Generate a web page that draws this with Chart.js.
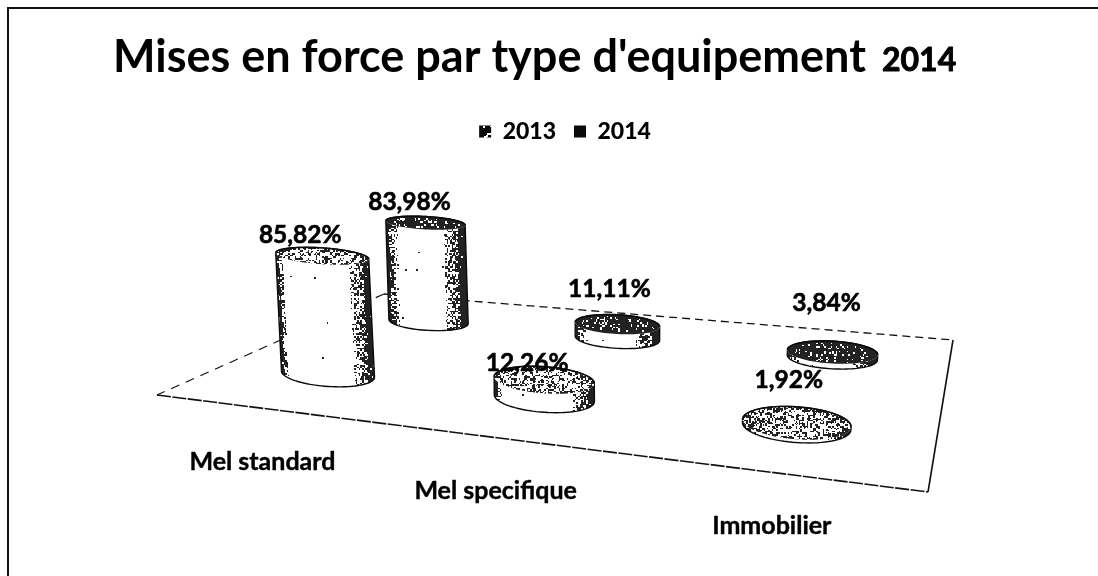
<!DOCTYPE html>
<html><head><meta charset="utf-8">
<style>html,body{margin:0;padding:0;background:#fff}canvas{display:block;filter:blur(0.45px)}</style>
<script src="https://cdn.jsdelivr.net/npm/chart.js@4/dist/chart.umd.min.js"></script>
</head><body><canvas id="c" width="1098" height="576"></canvas>
<script>
const categories = ['Mel standard', 'Mel specifique', 'Immobilier'];
const seriesNames = ['2013', '2014'];
const values2013 = [85.82, 12.26, 1.92];
const values2014 = [83.98, 11.11, 3.84];
const labels2013 = ['85,82%', '12,26%', '1,92%'];
const labels2014 = ['83,98%', '11,11%', '3,84%'];

// Look of the pseudo-3D scene (layout, not data)
const floor = {A:[157,395], B:[928,492], C:[953,340], D:[384,294]};
const labelNudge = [[[-22,-21],[-17,-17],[-8,-43]], [[-16,-21],[-8,-35],[-6,-49]]];
const catNudge = [2,54];
const valueLabelFont = 'bold 24.5px Lato';
const catFont = 'bold 25px Lato';
const fillDensity = [0.4, 0.85];

function homography(){
  const {A,B,C,D}=floor;
  const dx1=B[0]-C[0],dx2=D[0]-C[0],sx=A[0]-B[0]+C[0]-D[0];
  const dy1=B[1]-C[1],dy2=D[1]-C[1],sy=A[1]-B[1]+C[1]-D[1];
  const den=dx1*dy2-dx2*dy1;
  const g=(sx*dy2-dx2*sy)/den,h=(dx1*sy-sx*dy1)/den;
  const a=B[0]-A[0]+g*B[0],b=D[0]-A[0]+h*D[0],c=A[0];
  const d=B[1]-A[1]+g*B[1],e=D[1]-A[1]+h*D[1],f=A[1];
  return (u,v)=>{const w=1+g*u+h*v;return {x:(a*u+b*v+c)/w,y:(d*u+e*v+f)/w,w};};
}
const H=homography();
const noise=(x,y)=>{const s=Math.sin(Math.floor(x/1.6)*12.9898+Math.floor(y/1.6)*78.233)*43758.5453;return s-Math.floor(s);};
const clump=(x,y)=>0.55+0.85*Math.abs(Math.sin(x*0.23+y*0.41)*Math.cos(x*0.11-y*0.37));

function ellipsePts(cx,cy,rx,ry,sl,from,to,n){
  const pts=[];
  for(let i=0;i<=n;i++){const t=from+(to-from)*i/n;const ex=Math.cos(t)*rx;
    pts.push([cx+ex,cy+ex*sl+Math.sin(t)*ry]);}
  return pts;
}
function trace(ctx,pts,move){pts.forEach((p,i)=>{(i===0&&move)?ctx.moveTo(p[0],p[1]):ctx.lineTo(p[0],p[1]);});}
function stipple(ctx,x0,y0,x1,y1,fn){
  ctx.fillStyle='rgba(10,10,10,0.9)';
  for(let y=Math.floor(y0);y<=y1;y++)for(let x=Math.floor(x0);x<=x1;x++){
    if(noise(x,y)<fn(x,y))ctx.fillRect(x,y,1,1);
  }
}
function sideShade(ds,t){
  if(ds===0){
    if(t<0.03)return 0.95; if(t<0.07)return 0.35; if(t<0.78)return 0.001;
    if(t<0.93)return 0.2+(t-0.78)*3.4; return 0.97;
  }
  if(t<0.03)return 0.97; if(t<0.1)return 0.6; if(t<0.14)return 0.15; if(t<0.72)return 0.002;
  if(t<0.9)return 0.25+(t-0.72)*2.6; return 0.97;
}
function drawCylinder(ctx,ds,c){
  const {bx,by,tx,ty,rx,ry,rt,sl}=c;
  ctx.save();
  ctx.beginPath();
  trace(ctx,ellipsePts(tx,ty,rx,rt,sl,Math.PI,2*Math.PI,40),true);
  trace(ctx,ellipsePts(bx,by,rx,ry,sl,0,Math.PI,40),false);
  ctx.closePath();
  ctx.fillStyle='#fff';ctx.fill();
  ctx.save();ctx.clip();
  stipple(ctx,Math.min(tx,bx)-rx-2,ty-rt-Math.abs(sl*rx)-2,Math.max(tx,bx)+rx+2,by+ry+Math.abs(sl*rx)+2,(x,y)=>{
    const f=(y-ty)/Math.max(1,by-ty);
    const cx=tx+(bx-tx)*Math.max(0,Math.min(1,f));
    return sideShade(ds,(x-(cx-rx))/(2*rx));
  });
  ctx.restore();
  ctx.strokeStyle='#0a0a0a';ctx.lineWidth=1.4;ctx.stroke();
  ctx.beginPath();
  trace(ctx,ellipsePts(tx,ty,rx,rt,sl,0,2*Math.PI,80),true);
  ctx.closePath();
  ctx.fillStyle='#fff';ctx.fill();
  ctx.save();ctx.clip();
  const dens=fillDensity[ds];
  stipple(ctx,tx-rx-1,ty-rt-Math.abs(sl*rx)-1,tx+rx+1,ty+rt+Math.abs(sl*rx)+1,(x,y)=>{
    const edge=Math.hypot((x-tx)/rx,(y-ty-(x-tx)*sl)/rt);
    const e=edge>0.86?0.25:0;
    return dens*(ds===0?clump(x,y):1)+e;
  });
  ctx.restore();
  ctx.beginPath();
  trace(ctx,ellipsePts(tx,ty,rx,rt,sl,Math.PI,2*Math.PI,40),true);
  ctx.strokeStyle='#0a0a0a';ctx.lineWidth=1.6;ctx.stroke();
  ctx.restore();
}
function geometry(chart,ds,i){
  const bar=chart.getDatasetMeta(ds).data[i];
  const xs=chart.scales.x,ds_=chart.scales.depth,ys=chart.scales.y;
  const u=(xs.getPixelForValue(i)-xs.left)/xs.width;
  const v=(ds_.getPixelForValue(ds)-ds_.left)/ds_.width;
  const p=H(u,v);
  const px=H(u+0.02,v),pv=H(u,v+0.02);
  const h=(bar.base-bar.y)/ys.height*145/p.w;
  const rx=49/p.w,ry=Math.abs(pv.y-p.y)*5;
  const sl=(px.y-p.y)/(px.x-p.x)*0.6;
  const bx=p.x+3,by=p.y;
  return {bx,by,tx:bx-h*(600-bx)*0.00018,ty:by-h,rx,ry,rt:ry*(1-h/350),sl,u};
}
function dashed(ctx,a,b,pat,lw){
  ctx.save();ctx.setLineDash(pat);ctx.lineWidth=lw;ctx.strokeStyle='#111';
  ctx.beginPath();ctx.moveTo(a[0],a[1]);ctx.lineTo(b[0],b[1]);ctx.stroke();ctx.restore();
}
function boldText(ctx,text,x,y,lw){
  ctx.lineWidth=lw;ctx.strokeStyle='#000';ctx.lineJoin='round';
  ctx.strokeText(text,x,y);ctx.fillText(text,x,y);
}
const scene={
  id:'scene',
  afterLayout(chart){
    chart.titleBlock.left=113;
    chart.legend.left+=16;chart.legend.right+=16;
  },
  beforeDraw(chart){
    const ctx=chart.ctx;
    ctx.save();ctx.fillStyle='#fff';ctx.fillRect(0,0,chart.width,chart.height);
    ctx.strokeStyle='#111';ctx.lineWidth=2;
    ctx.beginPath();ctx.moveTo(8,576);ctx.lineTo(8,8);ctx.lineTo(1098,8);ctx.stroke();
    ctx.restore();
  },
  afterDraw(chart){
    const ctx=chart.ctx;ctx.save();
    ctx.fillStyle='#000';ctx.font='bold 32px Lato';ctx.textBaseline='alphabetic';ctx.textAlign='left';
    boldText(ctx,seriesNames[1],882,71,0.9);ctx.restore();
  },
  beforeDatasetsDraw(chart){
    const {A,B,C,D}=floor;const ctx=chart.ctx;
    dashed(ctx,D,C,[8,5],1.3);
    dashed(ctx,D,A,[9,7],1.2);
    dashed(ctx,A,B,[14,1.5],1.6);
    dashed(ctx,B,C,[],1.6);
  },
  beforeDatasetDraw(chart,args){
    const ds=args.index;
    categories.forEach((_,i)=>drawCylinder(chart.ctx,ds,geometry(chart,ds,i)));
    return false;
  },
  afterDatasetsDraw(chart){
    const ctx=chart.ctx;ctx.save();
    ctx.fillStyle='#000';ctx.textAlign='center';ctx.textBaseline='middle';
    const labelSets=[labels2013,labels2014];
    ctx.font=valueLabelFont;
    [1,0].forEach(ds=>categories.forEach((_,i)=>{
      const g=geometry(chart,ds,i);
      boldText(ctx,labelSets[ds][i],g.tx+labelNudge[ds][i][0],g.ty+labelNudge[ds][i][1],0.6);
    }));
    ctx.font=catFont;
    categories.forEach((name,i)=>{
      const g=geometry(chart,0,i);const p=H(g.u,0);
      boldText(ctx,name,p.x+catNudge[0],p.y+catNudge[1],0.4);
    });
    ctx.restore();
  }
};
function legendPattern(ds){
  const cv=document.createElement('canvas');cv.width=cv.height=13;
  const c=cv.getContext('2d');c.fillStyle='#0a0a0a';c.fillRect(0,0,13,13);
  if(ds===0){c.fillStyle='#fff';c.fillRect(3,6,3,2);c.fillRect(6,3,4,2);c.fillRect(5,5,2,2);c.fillRect(9,9,2,1);c.fillRect(2,9,2,2);}
  return c.createPattern(cv,'repeat');
}
new Chart(document.getElementById('c'),{
  type:'bar',
  data:{labels:categories,datasets:[
    {label:seriesNames[0],data:values2013,backgroundColor:legendPattern(0),borderWidth:0},
    {label:seriesNames[1],data:values2014,backgroundColor:legendPattern(1),borderWidth:0}
  ]},
  plugins:[scene],
  options:{
    responsive:false,animation:false,
    layout:{padding:0},
    scales:{
      x:{type:'category',display:false,offset:true},
      depth:{type:'category',axis:'x',labels:seriesNames,offset:true,display:false},
      y:{type:'linear',min:0,max:100,display:false}
    },
    plugins:{
      tooltip:{enabled:false},
      title:{display:true,text:"Mises en force par type d'equipement",align:'start',color:'#000',
        font:{family:'Lato',size:45,weight:'bold'},padding:{top:30,bottom:18}},
      legend:{display:true,position:'top',labels:{boxWidth:12,boxHeight:12,padding:18,color:'#000',
        font:{family:'Lato',size:23,weight:'900'}}}
    }
  }
});
</script></body></html>
